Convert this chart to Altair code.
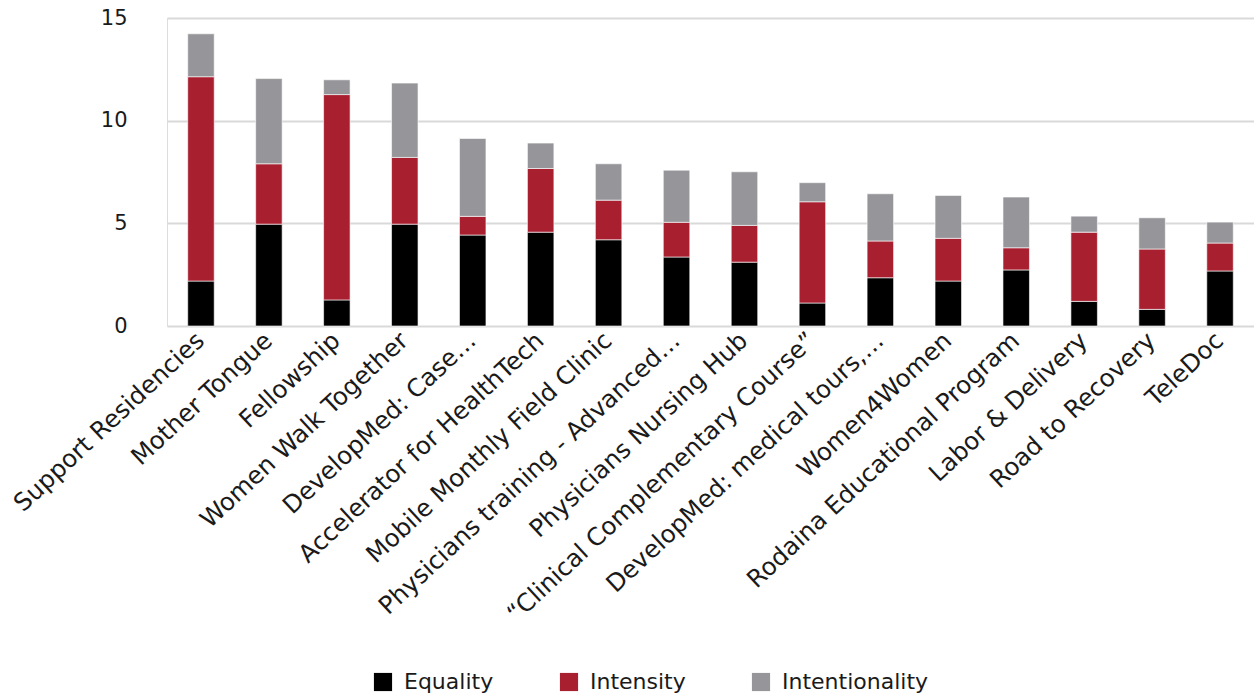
import altair as alt
import pandas as pd

# Programme names in display order
programs = [
    "Support Residencies",
    "Mother Tongue",
    "Fellowship",
    "Women Walk Together",
    "DevelopMed: Case…",
    "Accelerator for HealthTech",
    "Mobile Monthly Field Clinic",
    "Physicians training - Advanced…",
    "Physicians Nursing Hub",
    "“Clinical Complementary  Course”",
    "DevelopMed: medical tours,…",
    "Women4Women",
    "Rodaina Educational Program",
    "Labor & Delivery",
    "Road to Recovery",
    "TeleDoc",
]

# Score components per programme (stacked)
equality = [2.19, 4.96, 1.27, 4.96, 4.43, 4.57, 4.20, 3.36, 3.11, 1.12, 2.35, 2.19, 2.73, 1.20, 0.81, 2.68]
intensity = [9.95, 2.94, 10.00, 3.25, 0.91, 3.10, 1.93, 1.69, 1.79, 4.93, 1.79, 2.08, 1.08, 3.37, 2.94, 1.36]
intentionality = [2.09, 4.15, 0.72, 3.62, 3.79, 1.24, 1.77, 2.54, 2.61, 0.93, 2.30, 2.09, 2.47, 0.78, 1.52, 1.02]

series = ["Equality", "Intensity", "Intentionality"]
colors = ["#000000", "#A81F30", "#96969A"]

rows = []
for name, vals in zip(series, [equality, intensity, intentionality]):
    for p, v in zip(programs, vals):
        rows.append({"program": p, "component": name, "score": v, "rank": series.index(name)})
df = pd.DataFrame(rows)

FONT = "DejaVu Sans"
TEXT = "#1a1a1a"

chart = (
    alt.Chart(df)
    .mark_bar(stroke="#ffffff", strokeWidth=0.6)
    .encode(
        x=alt.X(
            "program:N",
            sort=programs,
            title=None,
            scale=alt.Scale(paddingInner=0.61, paddingOuter=0.305),
            axis=alt.Axis(
                labelAngle=-43,
                labelAlign="right",
                labelBaseline="middle",
                labelFontSize=24.5,
                labelFont=FONT,
                labelColor=TEXT,
                labelLimit=0,
                labelOverlap=False,
                labelPadding=11,
                ticks=False,
                domain=False,
                grid=False,
            ),
        ),
        y=alt.Y(
            "score:Q",
            title=None,
            stack="zero",
            scale=alt.Scale(domain=[0, 15], nice=False),
            axis=alt.Axis(
                values=[0, 5, 10, 15],
                labelFontSize=21,
                labelFont=FONT,
                labelColor=TEXT,
                labelPadding=40,
                ticks=False,
                domain=False,
                grid=True,
                gridColor="#d9d9d9",
                gridWidth=2,
            ),
        ),
        color=alt.Color(
            "component:N",
            sort=series,
            scale=alt.Scale(domain=series, range=colors),
            legend=alt.Legend(
                title=None,
                orient="none",
                direction="horizontal",
                legendX=205,
                legendY=653,
                symbolType="square",
                symbolSize=330,
                symbolStrokeWidth=0,
                labelFontSize=22,
                labelFont=FONT,
                labelColor=TEXT,
                columnPadding=64,
                labelOffset=10,
            ),
        ),
        order=alt.Order("rank:Q", sort="ascending"),
    )
    .properties(
        width=1087,
        height=308,
        autosize=alt.AutoSizeParams(type="none"),
        padding={"left": 167, "top": 18, "right": 0, "bottom": 374},
    )
    .configure_view(stroke=None)
    .configure(background="#ffffff")
)

chart.save("out.html", embed_options={"renderer": "svg", "actions": False})
